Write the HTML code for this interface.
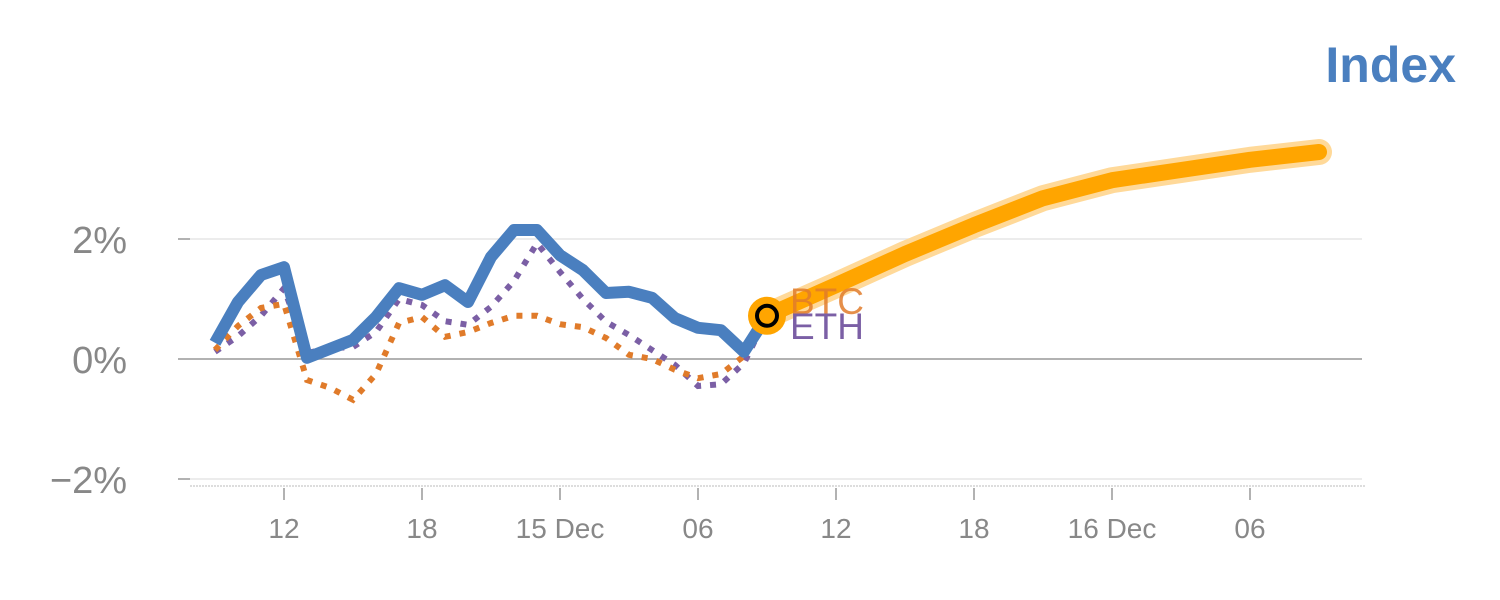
<!DOCTYPE html>
<html><head><meta charset="utf-8"><style>
html,body{margin:0;padding:0;background:#fff;width:1500px;height:600px;overflow:hidden}
svg text{font-family:"Liberation Sans",sans-serif}
</style></head><body>
<svg id="c" width="1500" height="600"></svg>
<script>
const hours=[9,10,11,12,13,14,15,16,17,18,19,20,21,22,23,24,25,26,27,28,29,30,31,32,33];
const indexVals=[0.27,0.95,1.4,1.53,0.02,0.17,0.32,0.7,1.18,1.07,1.23,0.95,1.7,2.15,2.15,1.73,1.48,1.1,1.12,1.02,0.68,0.52,0.48,0.12,0.72];
const btcVals=[0.15,0.55,0.85,0.92,-0.35,-0.48,-0.68,-0.25,0.6,0.7,0.37,0.45,0.6,0.72,0.72,0.58,0.53,0.35,0.07,0.0,-0.18,-0.32,-0.25,0.05,0.72];
const ethVals=[0.12,0.38,0.72,1.18,0.1,0.18,0.2,0.45,1.0,0.9,0.63,0.57,0.87,1.3,1.93,1.45,1.0,0.62,0.4,0.15,-0.1,-0.45,-0.42,-0.07,0.72];
const fcHours=[33,36,39,42,45,48,51,54,57];
const fcVals=[0.72,1.23,1.75,2.23,2.68,2.98,3.15,3.32,3.45];
const yTicks=[2,0,-2];
const yLabels=["2%","0%","\u22122%"];
const xTickHours=[12,18,24,30,36,42,48,54];
const xLabels=["12","18","15 Dec","06","12","18","16 Dec","06"];

const X=t=>284+(t-12)*23;
const Y=v=>359-v*60;
const svg=document.getElementById('c');
const NS='http://www.w3.org/2000/svg';
function mk(tag,attrs,parent){const e=document.createElementNS(NS,tag);for(const k in attrs)e.setAttribute(k,attrs[k]);(parent||svg).appendChild(e);return e;}

yTicks.forEach((v,i)=>{
  const g=mk('line',{x1:190,x2:1362,y1:Y(v),y2:Y(v),stroke:v===0?'#999':'#e6e6e6','stroke-width':1.5});
  
  
  const tk=mk('line',{x1:178,x2:190,y1:Y(v),y2:Y(v),stroke:'#999','stroke-width':1.5});
  
  
  const t=mk('text',{x:127,y:Y(v)+14,'text-anchor':'end','font-size':38,fill:'#888'});
  t.textContent=yLabels[i];
  
  
});
const ax=mk('line',{x1:190,x2:1365,y1:486,y2:486,stroke:'#ddd','stroke-width':2,'stroke-dasharray':'2 1'});


xTickHours.forEach((h,i)=>{
  const tk=mk('line',{x1:X(h),x2:X(h),y1:488,y2:500,stroke:'#999','stroke-width':1.5});
  
  
  const t=mk('text',{x:X(h),y:538,'text-anchor':'middle','font-size':28,fill:'#888'});
  t.textContent=xLabels[i];
  
  
});
function pts(hs,vs){return hs.map((h,i)=>X(h)+','+Y(vs[i])).join(' ');}
const fc1=mk('polyline',{points:pts(fcHours,fcVals),fill:'none',stroke:'#ffd999','stroke-width':26,'stroke-linecap':'round','stroke-linejoin':'round'});


const fc2=mk('polyline',{points:pts(fcHours,fcVals),fill:'none',stroke:'#ffa500','stroke-width':16,'stroke-linecap':'round','stroke-linejoin':'round'});


const eth=mk('polyline',{points:pts(hours,ethVals),fill:'none',stroke:'#7b5fa5','stroke-width':6,'stroke-dasharray':'6 9'});


const btc=mk('polyline',{points:pts(hours,btcVals),fill:'none',stroke:'#e07b2a','stroke-width':6,'stroke-dasharray':'6 9'});


const idx=mk('polyline',{points:pts(hours,indexVals),fill:'none',stroke:'#4a7fbf','stroke-width':12,'stroke-linejoin':'round'});


const last=hours.length-1;
const m1=mk('circle',{cx:X(hours[last]),cy:Y(indexVals[last]),r:19,fill:'#ffa500'});


const m2=mk('circle',{cx:X(hours[last]),cy:Y(indexVals[last]),r:10,fill:'#ffa500',stroke:'#000','stroke-width':4});


const lb=mk('text',{x:790,y:314,'font-size':37,fill:'#e07b2a','fill-opacity':0.85});
lb.textContent='BTC';


const le=mk('text',{x:790,y:339,'font-size':37,fill:'#7b5fa5'});
le.textContent='ETH';


const ti=mk('text',{x:1456,y:82,'text-anchor':'end','font-size':50,'font-weight':'bold',fill:'#4a7fbf'});
ti.textContent='Index';


</script>
</body></html>
